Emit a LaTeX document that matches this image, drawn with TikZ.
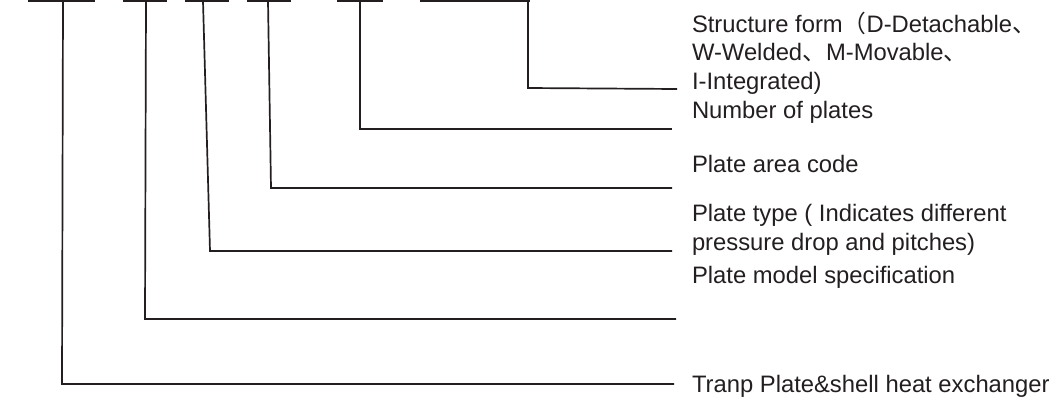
\documentclass[tikz,border=0pt]{standalone}
\usepackage{fontspec}
\setmainfont{Liberation Sans}
\newfontfamily\cjk{Noto Sans CJK SC}
\definecolor{ink}{HTML}{231F20}
\begin{document}
\begin{tikzpicture}[x=1pt,y=-1pt,
  leader/.style={draw=ink,line width=1.7pt,line join=miter},
  bar/.style={draw=ink,line width=2pt},
  lab/.style={anchor=base west,inner sep=0pt,outer sep=0pt,text=ink,align=left,
    font=\fontsize{23.8}{28.7}\selectfont}]
\useasboundingbox (0,0) rectangle (1061,397);
% labels (base anchor = baseline of the last line)
\node[lab] (l6) at (692,89.5) {Structure form{\cjk （}D-Detachable{\cjk 、}\\W-Welded{\cjk 、}M-Movable{\cjk 、}\\I-Integrated)};
\node[lab] (l5) at (692,118) {Number of plates};
\node[lab] (l4) at (692,172) {Plate area code};
\node[lab] (l3) at (692,250.5) {Plate type ( Indicates different\\pressure drop and pitches)};
\node[lab] (l2) at (692,283) {Plate model specification};
\node[lab] (l1) at (692,392) {Tranp Plate\&shell heat exchanger};
% top bars
\coordinate (b1l) at (28,1);  \coordinate (b1r) at (95,1);  \coordinate (t1) at (63,1);
\coordinate (b2l) at (123,1); \coordinate (b2r) at (167,1); \coordinate (t2) at (146,1);
\coordinate (b3l) at (185,1); \coordinate (b3r) at (229,1); \coordinate (t3) at (203,1);
\coordinate (b4l) at (247,1); \coordinate (b4r) at (291,1); \coordinate (t4) at (268,1);
\coordinate (b5l) at (337,1); \coordinate (b5r) at (383,1); \coordinate (t5) at (360,1);
\coordinate (b6l) at (420,1); \coordinate (b6r) at (530,1); \coordinate (t6) at (528,1);
\foreach \i in {1,...,6} {\draw[bar] (b\i l) -- (b\i r);}
% corners and ends
\coordinate (c1) at (62,384);  \coordinate (e1) at (674,384);
\coordinate (c2) at (145,319); \coordinate (e2) at (676,319);
\coordinate (c3) at (210,251); \coordinate (e3) at (672,251);
\coordinate (c4) at (271,188); \coordinate (e4) at (672,188);
\coordinate (c5) at (360,129); \coordinate (e5) at (672,129);
\coordinate (c6) at (528,88);  \coordinate (e6) at (677,89);
\foreach \i in {1,...,6} {\draw[leader] (t\i) -- (c\i) -- (e\i);}
\end{tikzpicture}
\end{document}
